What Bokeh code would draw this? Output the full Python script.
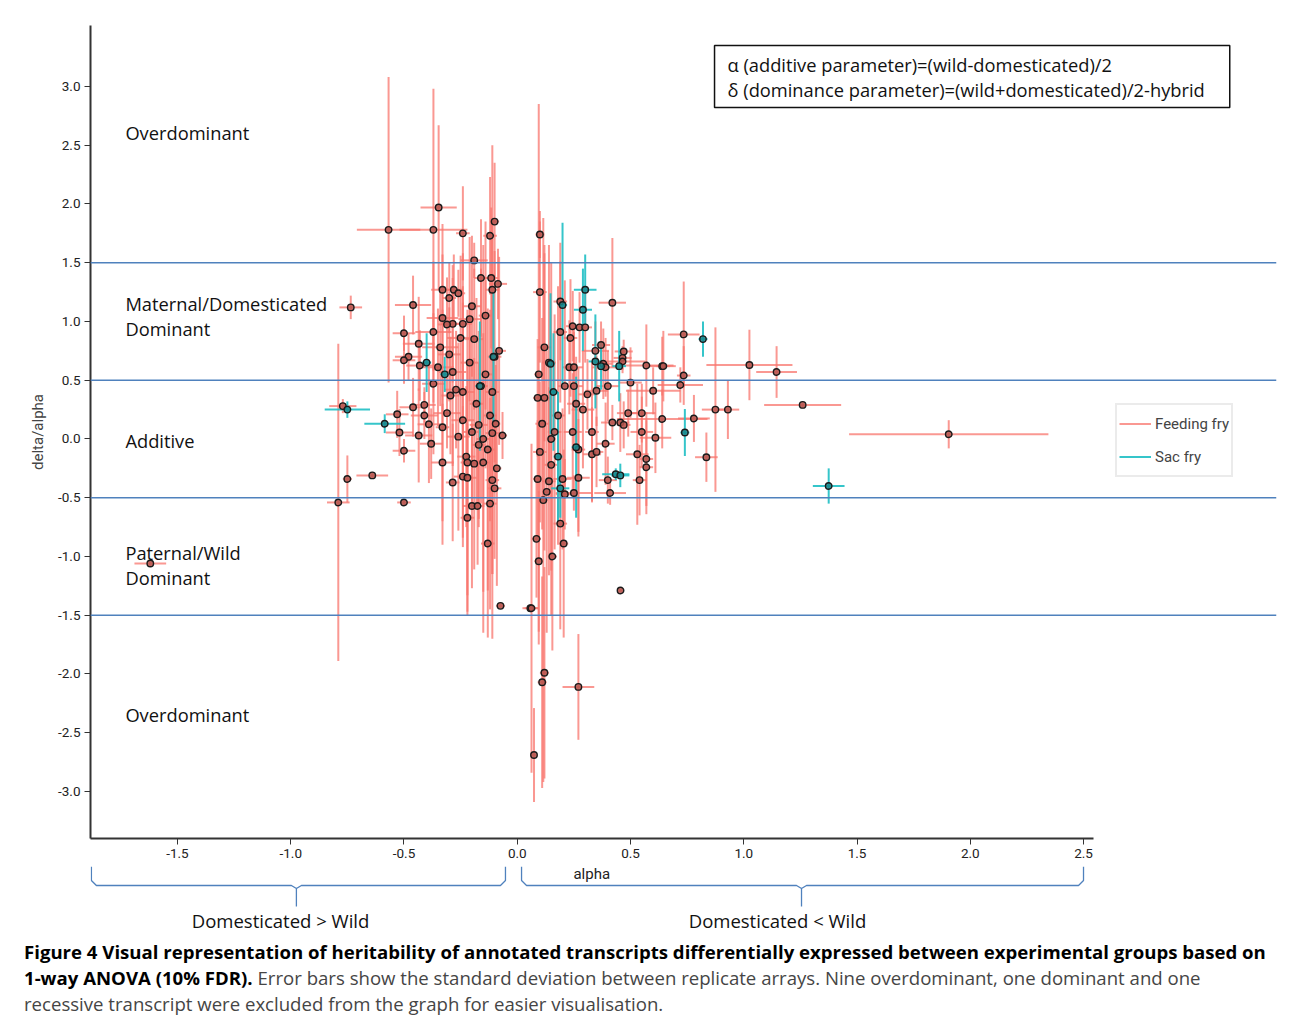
import numpy as np
from bokeh.plotting import figure
from bokeh.models import (Span, Label, Legend, LegendItem, FixedTicker, Range1d,
                          Div, PrintfTickFormatter, ColumnDataSource)
from bokeh.layouts import column
from bokeh.core.properties import value
from bokeh.embed import file_html
from bokeh.resources import INLINE

# ---------------- data ----------------
# Feeding fry: alpha, delta/alpha, sd(alpha), sd(delta/alpha)
ff_alpha = [-1.62, -0.735, -0.79, -0.75, -0.64, -0.50, -0.77, -0.53, -0.52, -0.50,
            -0.46, -0.347, -0.37, -0.568, -0.24, -0.10, -0.12, -0.19, -0.16, -0.115,
            -0.085, -0.11, -0.33, -0.28, -0.30, -0.26, -0.20, -0.33, -0.285, -0.31,
            -0.24, -0.21, -0.37, -0.50, -0.08, -0.10, -0.48, -0.435, -0.34, -0.25,
            -0.50, -0.43, -0.35, -0.285, -0.37, -0.295, -0.24, -0.46, -0.41, -0.41,
            -0.39, -0.31, -0.24, -0.20, -0.435, -0.38, -0.26, -0.095, -0.065, -0.11,
            -0.33, -0.13, -0.19, -0.24, -0.285, -0.22, -0.11, -0.10, -0.20, -0.175,
            -0.22, -0.13, -0.074, 0.058, -0.18, -0.16, -0.14, -0.12, -0.17, -0.15,
            -0.12, -0.21, -0.19, -0.14, -0.17, -0.225, -0.30, -0.27, -0.09, -0.11,
            -0.15, -0.22, -0.33,
            0.10, 0.095, 0.10, 0.19, 0.42, 0.245, 0.275, 0.30, 0.19, 0.235,
            0.37, 0.12, 0.345, 0.47, 0.465, 0.38, 0.465, 0.57, 0.64, 0.23,
            0.25, 0.39, 0.735, 0.875, 1.025, 1.145, 1.26, 1.905, 0.93, 0.78,
            0.835, 0.64, 0.61, 0.72, 0.735, 0.645, 0.60, 0.50, 0.55, 0.49,
            0.42, 0.455, 0.47, 0.39, 0.53, 0.57, 0.57, 0.54, 0.41, 0.40,
            0.25, 0.21, 0.55, 0.33, 0.245, 0.33, 0.35, 0.27, 0.27, 0.20,
            0.14, 0.09, 0.15, 0.10, 0.165, 0.11, 0.09, 0.26, 0.31, 0.35,
            0.40, 0.085, 0.095, 0.155, 0.19, 0.205, 0.456, 0.063, 0.12, 0.11,
            0.27, 0.074, 0.12, 0.13, 0.18, 0.21, 0.14, 0.25, 0.29, 0.115, 0.15]
ff_delta = [-1.06, 1.12, -0.54, -0.34, -0.31, -0.54, 0.28, 0.21, 0.055, -0.10,
            1.14, 1.97, 1.78, 1.78, 1.75, 1.85, 1.73, 1.52, 1.37, 1.37,
            1.32, 1.27, 1.27, 1.27, 1.20, 1.24, 1.13, 1.03, 0.98, 0.975,
            0.98, 1.02, 0.91, 0.90, 0.75, 0.70, 0.70, 0.81, 0.78, 0.86,
            0.67, 0.625, 0.61, 0.57, 0.47, 0.37, 0.40, 0.27, 0.29, 0.20,
            0.125, 0.22, 0.16, 0.06, 0.03, -0.04, 0.02, 0.13, 0.03, 0.05,
            -0.20, -0.09, -0.21, -0.32, -0.37, -0.33, -0.35, -0.42, -0.57, -0.57,
            -0.67, -0.89, -1.42, -1.44, 0.30, 0.45, 0.55, 0.20, -0.05, -0.20,
            -0.55, 0.65, 0.85, 1.05, 0.12, -0.15, 0.72, 0.42, -0.25, 0.40,
            0.00, -0.20, 0.10,
            1.74, 0.55, 1.25, 1.17, 1.16, 0.96, 0.95, 0.95, 0.91, 0.86,
            0.80, 0.78, 0.75, 0.745, 0.69, 0.64, 0.66, 0.625, 0.62, 0.61,
            0.61, 0.61, 0.89, 0.25, 0.63, 0.57, 0.29, 0.04, 0.25, 0.175,
            -0.155, 0.17, 0.01, 0.46, 0.54, 0.62, 0.41, 0.48, 0.22, 0.22,
            0.14, 0.14, 0.12, -0.04, -0.13, -0.17, -0.24, -0.35, -0.46, -0.35,
            -0.46, -0.47, 0.06, 0.06, 0.06, -0.13, -0.11, -0.09, -0.33, -0.34,
            -0.36, -0.34, -0.22, -0.11, 0.06, 0.13, 0.35, 0.30, 0.38, 0.41,
            0.45, -0.85, -1.04, -1.00, -0.72, -0.89, -1.29, -1.44, -1.99, -2.07,
            -2.11, -2.69, 0.35, -0.45, 0.20, 0.45, 0.65, 0.45, 0.25, -0.52, 0.00]
ff_alpha_sd = [0.07, 0.05, 0.05, 0.02, 0.07, 0.03, 0.06, 0.05, 0.06, 0.05,
               0.08, 0.08, 0.15, 0.14, 0.03, 0.02, 0.03, 0.06, 0.03, 0.03,
               0.04, 0.03, 0.05, 0.04, 0.03, 0.03, 0.04, 0.07, 0.05, 0.04,
               0.04, 0.05, 0.08, 0.05, 0.03, 0.03, 0.06, 0.07, 0.08, 0.06,
               0.05, 0.06, 0.07, 0.06, 0.05, 0.04, 0.05, 0.06, 0.05, 0.06,
               0.05, 0.06, 0.05, 0.04, 0.06, 0.05, 0.05, 0.02, 0.02, 0.03,
               0.05, 0.03, 0.04, 0.04, 0.03, 0.04, 0.03, 0.03, 0.04, 0.03,
               0.03, 0.03, 0.02, 0.035, 0.03, 0.03, 0.03, 0.03, 0.03, 0.03,
               0.03, 0.04, 0.04, 0.03, 0.04, 0.04, 0.05, 0.05, 0.02, 0.03,
               0.03, 0.03, 0.03,
               0.02, 0.02, 0.03, 0.03, 0.06, 0.03, 0.03, 0.03, 0.03, 0.03,
               0.04, 0.03, 0.06, 0.04, 0.04, 0.04, 0.10, 0.12, 0.06, 0.03,
               0.04, 0.06, 0.07, 0.06, 0.19, 0.09, 0.17, 0.44, 0.05, 0.07,
               0.05, 0.20, 0.07, 0.10, 0.03, 0.03, 0.12, 0.05, 0.06, 0.05,
               0.05, 0.04, 0.03, 0.04, 0.05, 0.03, 0.03, 0.03, 0.07, 0.04,
               0.08, 0.04, 0.05, 0.03, 0.04, 0.04, 0.03, 0.03, 0.05, 0.04,
               0.03, 0.02, 0.03, 0.03, 0.03, 0.03, 0.02, 0.04, 0.04, 0.05,
               0.05, 0.02, 0.02, 0.02, 0.03, 0.02, 0.01, 0.03, 0.02, 0.02,
               0.07, 0.01, 0.03, 0.02, 0.03, 0.03, 0.03, 0.04, 0.05, 0.02, 0.02]
ff_delta_sd = [0.02, 0.10, 1.35, 0.20, 0.03, 0.03, 0.06, 0.20, 0.20, 0.10,
               0.25, 0.70, 1.20, 1.30, 0.40, 0.50, 0.50, 0.15, 0.50, 0.60,
               0.30, 0.60, 0.30, 0.30, 0.30, 0.20, 0.60, 0.80, 0.50, 0.40,
               0.60, 0.70, 0.60, 0.15, 0.80, 0.90, 0.20, 0.40, 0.50, 0.70,
               0.20, 0.30, 0.50, 0.80, 0.60, 0.50, 0.90, 0.25, 0.15, 0.20,
               0.50, 0.30, 1.00, 0.60, 0.40, 0.30, 0.80, 0.50, 0.20, 1.20,
               0.50, 1.20, 0.90, 0.60, 0.50, 1.00, 0.80, 0.60, 0.70, 0.50,
               0.80, 0.80, 0.02, 0.03, 0.90, 1.00, 0.80, 0.90, 0.70, 1.10,
               0.90, 0.50, 0.60, 0.80, 0.80, 0.60, 0.40, 0.50, 1.00, 2.10,
               1.65, 1.30, 1.00,
               0.20, 2.30, 0.60, 0.50, 0.55, 0.30, 0.30, 0.30, 0.60, 0.50,
               0.20, 0.80, 0.25, 0.10, 0.10, 0.30, 0.10, 0.35, 0.25, 0.40,
               0.30, 0.25, 0.45, 0.70, 0.30, 0.22, 0.02, 0.12, 0.25, 0.20,
               0.21, 0.25, 0.30, 0.15, 0.25, 0.30, 0.20, 0.30, 0.25, 0.20,
               0.15, 0.25, 0.20, 0.35, 0.60, 0.40, 0.40, 0.30, 0.10, 0.20,
               0.15, 0.30, 0.30, 0.60, 0.50, 0.40, 0.30, 0.70, 0.50, 0.60,
               0.80, 0.50, 0.90, 0.60, 1.00, 0.90, 0.50, 0.40, 0.30, 0.30,
               0.30, 0.50, 0.60, 0.80, 0.90, 0.80, 0.01, 1.40, 0.90, 0.90,
               0.45, 0.40, 1.30, 1.20, 1.10, 0.90, 1.00, 0.50, 0.50, 2.40, 1.50]

# Sac fry
sf_alpha = [-0.75, -0.585, 0.30, 0.29, 0.20, 0.147, 0.345, 0.45, 0.82, 0.74,
            1.375, 0.435, 0.455, 0.26, -0.105, -0.165, -0.40, -0.32, 0.16, 0.18,
            0.37, 0.19]
sf_delta = [0.25, 0.13, 1.27, 1.10, 1.14, 0.64, 0.66, 0.62, 0.85, 0.055,
            -0.40, -0.30, -0.31, -0.07, 0.70, 0.45, 0.65, 0.55, 0.40, -0.15,
            0.62, -0.42]
sf_alpha_sd = [0.10, 0.09, 0.05, 0.04, 0.02, 0.02, 0.03, 0.03, 0.02, 0.02,
               0.07, 0.06, 0.04, 0.02, 0.02, 0.02, 0.02, 0.02, 0.02, 0.02,
               0.02, 0.04]
sf_delta_sd = [0.07, 0.08, 0.30, 0.35, 0.70, 0.60, 0.40, 0.30, 0.15, 0.20,
               0.15, 0.05, 0.10, 0.60, 0.55, 0.55, 0.25, 0.15, 0.50, 0.55,
               0.20, 0.25]

x_ticks = [-1.5, -1.0, -0.5, 0.0, 0.5, 1.0, 1.5, 2.0, 2.5]
y_ticks = [-3.0, -2.5, -2.0, -1.5, -1.0, -0.5, 0.0, 0.5, 1.0, 1.5, 2.0, 2.5, 3.0]
boundaries = [-1.5, -0.5, 0.5, 1.5]
series_names = ["Feeding fry", "Sac fry"]

FF_COL = "#F8766D"
SF_COL = "#1FBFC4"
LINE_BLUE = "#4F81BD"
NARROW = "Roboto"
SANS = "Open Sans"

# ---------------- main chart ----------------
p = figure(width=1282, height=866,
           x_range=Range1d(-1.884, 3.352), y_range=Range1d(-3.40, 3.519),
           output_backend="svg", toolbar_location=None,
           min_border_left=90, min_border_right=6, min_border_top=25, min_border_bottom=28)
p.xgrid.visible = False
p.ygrid.visible = False
p.outline_line_color = None
p.background_fill_color = "white"

p.xaxis.bounds = (-1.884, 2.546)
p.xaxis.ticker = FixedTicker(ticks=x_ticks)
p.yaxis.ticker = FixedTicker(ticks=y_ticks)
p.xaxis.formatter = PrintfTickFormatter(format="%.1f")
p.yaxis.formatter = PrintfTickFormatter(format="%.1f")
for ax in (p.xaxis[0], p.yaxis[0]):
    ax.axis_line_width = 2
    ax.axis_line_color = "#333333"
    ax.major_tick_line_color = "#333333"
    ax.major_tick_out = 6
    ax.major_tick_in = 0
    ax.minor_tick_out = 0
    ax.minor_tick_in = 0
    ax.major_label_text_font = NARROW
    ax.major_label_text_font_size = "13.5px"
    ax.major_label_text_color = "#222222"
p.xaxis.major_label_standoff = 4
p.yaxis.major_label_standoff = 4
p.yaxis.axis_label = "delta/alpha"
p.yaxis.axis_label_text_font = NARROW
p.yaxis.axis_label_text_font_size = "15px"
p.yaxis.axis_label_text_font_style = "normal"
p.yaxis.axis_label_standoff = 8

for b in boundaries:
    p.add_layout(Span(location=b, dimension="width", line_color=LINE_BLUE, line_width=1.6))

fa = np.array(ff_alpha); fd = np.array(ff_delta)
fas = np.array(ff_alpha_sd); fds = np.array(ff_delta_sd)
sa = np.array(sf_alpha); sd_ = np.array(sf_delta)
sas = np.array(sf_alpha_sd); sds = np.array(sf_delta_sd)

r_ff = p.segment(x0=fa, y0=fd - fds, x1=fa, y1=fd + fds,
                 line_color=FF_COL, line_width=2, line_alpha=0.75)
p.segment(x0=fa - fas, y0=fd, x1=fa + fas, y1=fd,
          line_color=FF_COL, line_width=2, line_alpha=0.75)
r_sf = p.segment(x0=sa, y0=sd_ - sds, x1=sa, y1=sd_ + sds,
                 line_color=SF_COL, line_width=2, line_alpha=0.9)
p.segment(x0=sa - sas, y0=sd_, x1=sa + sas, y1=sd_,
          line_color=SF_COL, line_width=2, line_alpha=0.9)

p.scatter(fa, fd, size=6.5, fill_color="#b5564f", fill_alpha=0.85,
          line_color="#1a1a1a", line_width=1.4)
p.scatter(sa, sd_, size=6.5, fill_color="#17858a", fill_alpha=0.85,
          line_color="#1a1a1a", line_width=1.4)

legend = Legend(items=[LegendItem(label=series_names[0], renderers=[r_ff]),
                       LegendItem(label=series_names[1], renderers=[r_sf])],
                location=(1025, 361), orientation="vertical",
                glyph_width=32, glyph_height=33, label_standoff=4,
                padding=2, spacing=0, margin=0,
                label_text_font=NARROW, label_text_font_size="15px",
                border_line_color="#d8d8d8", border_line_width=2,
                background_fill_alpha=0)
p.add_layout(legend)

region_src = ColumnDataSource(dict(
    x=[-1.73] * 7,
    y=[2.61, 1.153, 0.94, -0.013, -0.966, -1.18, -2.345],
    t=["Overdominant", "Maternal/Domesticated", "Dominant", "Additive",
       "Paternal/Wild", "Dominant", "Overdominant"]))
p.text(x="x", y="y", text="t", source=region_src, text_font=value(SANS),
       text_font_size="18.3px", text_baseline="middle", text_align="left",
       text_color="#111111")

p.add_layout(Label(x=0.871, y=3.349,
                   text="α (additive parameter)=(wild-domesticated)/2\n"
                        "δ (dominance parameter)=(wild+domesticated)/2-hybrid",
                   text_font=SANS, text_font_size="18.3px", text_color="#111111",
                   text_baseline="top", text_align="left", text_line_height=1.0,
                   border_line_color="#111111", border_line_width=1.5,
                   background_fill_color="white", padding=(13, 25, 7, 5)))

# ---------------- braces below the axis ----------------
p2 = figure(width=1282, height=74, x_range=p.x_range, y_range=Range1d(74, 0),
            output_backend="svg", toolbar_location=None,
            min_border_left=90, min_border_right=6, min_border_top=0, min_border_bottom=0,
            x_axis_location=None, y_axis_location=None)
p2.grid.visible = False
p2.outline_line_color = None


def brace(xl, xc, xr):
    d = 0.022
    xs = [xl, xl, xl + d, xc - d, xc, xc, xc, xc + d, xr - d, xr, xr]
    ys = [0, 14, 19, 19, 22, 40, 22, 19, 19, 14, 0]
    return xs, ys


for xl, xc, xr in [(-1.88, -0.975, -0.052), (0.019, 1.255, 2.50)]:
    bx, by = brace(xl, xc, xr)
    p2.line(bx, by, line_color=LINE_BLUE, line_width=1.3)

p2.text(x=[0.329], y=[7], text=["alpha"], text_font=value(NARROW),
        text_font_size="15px", text_baseline="middle", text_align="center",
        text_color="#222222")
p2.text(x=[-1.045, 1.149], y=[54, 54], text=["Domesticated > Wild", "Domesticated < Wild"],
        text_font=value(SANS), text_font_size="18.5px", text_baseline="middle",
        text_align="center", text_color="#111111")

caption = Div(width=1282, height=78, text=(
    '<div style="font-family:\'Open Sans\'; font-size:18.6px; line-height:26px; '
    'margin-top:-6px; padding-left:19px; white-space:nowrap; color:#454545;">'
    '<b style="color:#000;">Figure 4 Visual representation of heritability of annotated '
    'transcripts differentially expressed between experimental groups based on<br>'
    '1-way ANOVA (10% FDR).</b> Error bars show the standard deviation between replicate '
    'arrays. Nine overdominant, one dominant and one<br>'
    'recessive transcript were excluded from the graph for easier visualisation.</div>'))

layout = column(p, p2, caption, spacing=0)
open("out.html", "w").write(file_html(layout, INLINE))
